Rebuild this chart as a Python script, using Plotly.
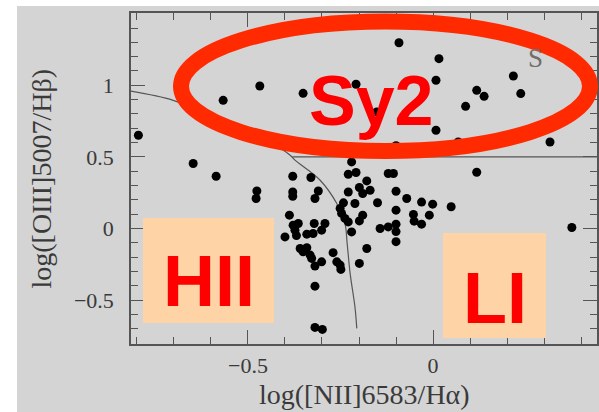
import plotly.graph_objects as go

# ---- data ----
nii = [-0.796, -0.648, -0.567, -0.468, -0.351, -0.208, -0.092, 0.016, 0.008, -0.152, 0.008, -0.100, -0.220, 0.068,
       0.118, 0.138, 0.088, 0.217, 0.237, 0.316, 0.118, -0.586,
       -0.379, -0.330, -0.379, -0.379, -0.310, -0.319, -0.476, -0.478, -0.229, -0.208, -0.179, -0.199, -0.170, -0.190,
       -0.229, -0.121, -0.107, -0.100, -0.071, -0.150, -0.031, -0.001, 0.049, -0.242, -0.251, -0.247, -0.238, -0.229,
       -0.211, -0.190, -0.199, -0.100, -0.053, -0.051, -0.031, -0.010, -0.143, -0.121, -0.100, -0.100, -0.100, 0.375,
       -0.388, -0.378, -0.364, -0.373, -0.400, -0.369, -0.341, -0.324, -0.321, -0.292, -0.301, -0.220, -0.359, -0.341,
       -0.351, -0.332, -0.328, -0.319, -0.301, -0.270, -0.260, -0.251, -0.249, -0.199, -0.179, -0.319, -0.319, -0.299]
oiii = [0.651, 0.454, 0.895, 0.995, 0.944, 1.007, 1.297, 1.186, 1.035, 0.814, 0.686, 0.578, 0.465, 0.604,
        0.965, 0.923, 0.853, 1.065, 0.942, 0.604, 0.393, 0.365,
        0.365, 0.356, 0.255, 0.225, 0.262, 0.209, 0.262, 0.209, 0.379, 0.391, 0.332, 0.286, 0.267, 0.244,
        0.255, 0.384, 0.384, 0.260, 0.209, 0.180, 0.184, 0.170, 0.152, 0.179, 0.140, 0.105, 0.070, 0.046,
        0.174, 0.093, 0.053, 0.128, 0.098, 0.051, 0.030, 0.093, 0.000, 0.011, 0.030, -0.022, -0.092, 0.007,
        0.093, 0.023, 0.035, -0.012, -0.059, -0.050, -0.040, -0.035, 0.035, 0.035, -0.012, -0.024, -0.140, -0.134,
        -0.163, -0.186, -0.209, -0.263, -0.233, -0.169, -0.233, -0.256, -0.286, -0.244, -0.140, -0.403, -0.691, -0.705]

# demarcation curve (HII / AGN) and Sy2 / LINER boundary
curve_x = [-0.819, -0.702, -0.603, -0.504, -0.386, -0.373, -0.305, -0.260, -0.238, -0.232, -0.224, -0.211, -0.206]
curve_y = [0.960, 0.895, 0.791, 0.698, 0.512, 0.477, 0.337, 0.174, 0.035, -0.105, -0.314, -0.547, -0.698]
hline_x = [-0.380, 0.443]
hline_y = [0.5, 0.5]

x_range = [-0.816, 0.443]
y_range = [-0.807, 1.505]
x_ticks = [-0.5, 0]
y_ticks = [-0.5, 0, 0.5, 1]
x_ticktext = ["−0.5", "0"]
y_ticktext = ["−0.5", "0", "0.5", "1"]

W, H = 599, 412
ML, MR, MT, MB = 131, 2, 13, 68
PW, PH = W - ML - MR, H - MT - MB


def px(xp):
    return (xp - ML) / PW


def py(yp):
    return (H - MB - yp) / PH


GRAY = "#d4d4d4"
AX = "#555555"
TXT = "#3a3a3a"
SERIF = "Liberation Serif, Times New Roman, serif"
SANS = "Liberation Sans, Arial, sans-serif"

fig = go.Figure()
fig.add_trace(go.Scatter(x=curve_x, y=curve_y, mode="lines", line=dict(color=AX, width=1.2, shape="spline"),
                         hoverinfo="skip", showlegend=False))
fig.add_trace(go.Scatter(x=hline_x, y=hline_y, mode="lines", line=dict(color=AX, width=1.2),
                         hoverinfo="skip", showlegend=False))
fig.add_trace(go.Scatter(x=nii, y=oiii, mode="markers", marker=dict(color="black", size=9),
                         showlegend=False))

axis_common = dict(showline=True, linecolor=AX, linewidth=1.5, mirror="ticks", ticks="inside",
                   ticklen=14, tickwidth=1.3, tickcolor=AX, showgrid=False, zeroline=False,
                   tickfont=dict(family=SERIF, size=22, color=TXT),
                   minor=dict(ticks="inside", ticklen=7, tickwidth=1.3, tickcolor=AX, dtick=0.1, tick0=0,
                              showgrid=False))
fig.update_xaxes(range=x_range, tickmode="array", tickvals=x_ticks, ticktext=x_ticktext,
                 ticklabelstandoff=1, **axis_common)
fig.update_yaxes(range=y_range, tickmode="array", tickvals=y_ticks, ticktext=y_ticktext,
                 ticklabelstandoff=11, **axis_common)

shapes = [
    # white page strips around the grey panel
    dict(type="rect", xref="paper", yref="paper", x0=px(0), x1=px(17), y0=py(H), y1=py(0),
         fillcolor="white", line=dict(width=0), layer="above"),
    dict(type="rect", xref="paper", yref="paper", x0=px(0), x1=px(W), y0=py(6), y1=py(0),
         fillcolor="white", line=dict(width=0), layer="above"),
    # peach boxes
    dict(type="rect", xref="paper", yref="paper", x0=px(143), x1=px(274), y0=py(323), y1=py(218),
         fillcolor="#fed4a6", line=dict(width=0), layer="above"),
    dict(type="rect", xref="paper", yref="paper", x0=px(443), x1=px(546), y0=py(338), y1=py(233),
         fillcolor="#fed4a6", line=dict(width=0), layer="above"),
    # red ellipse
    dict(type="circle", xref="paper", yref="paper", x0=px(181), x1=px(590), y0=py(151), y1=py(21.5),
         line=dict(color="#ff2a00", width=16), fillcolor="rgba(0,0,0,0)", layer="above"),
]

annotations = [
    dict(text="log([OIII]5007/Hβ)", xref="paper", yref="paper", x=px(41), y=0.5, textangle=-90,
         showarrow=False, xanchor="center", yanchor="middle", font=dict(family=SERIF, size=28, color=TXT)),
    dict(text="log([NII]6583/Hα)", xref="paper", yref="paper", x=0.5, y=py(394),
         showarrow=False, xanchor="center", yanchor="middle", font=dict(family=SERIF, size=28, color=TXT)),
    dict(text="S", xref="paper", yref="paper", x=px(535), y=py(57.5), showarrow=False,
         xanchor="center", yanchor="middle", font=dict(family=SERIF, size=27, color="#6e6e6e")),
    dict(text="<b>Sy2</b>", xref="paper", yref="paper", x=px(371), y=py(101), showarrow=False,
         xanchor="center", yanchor="middle", font=dict(family=SANS, size=70, color="#ff0000")),
    dict(text="<b>HII</b>", xref="paper", yref="paper", x=px(208.5), y=py(281), showarrow=False,
         xanchor="center", yanchor="middle", font=dict(family=SANS, size=72, color="#ff0000")),
    dict(text="<b>LI</b>", xref="paper", yref="paper", x=px(494.7), y=py(297.5), showarrow=False,
         xanchor="center", yanchor="middle", font=dict(family=SANS, size=72, color="#ff0000")),
]

fig.update_layout(width=W, height=H, margin=dict(l=ML, r=MR, t=MT, b=MB, autoexpand=False),
                  paper_bgcolor=GRAY, plot_bgcolor=GRAY, shapes=shapes, annotations=annotations,
                  showlegend=False)

fig.write_html("out.html", config={"displayModeBar": False},
               post_script="document.body.style.margin='0';document.body.style.overflow='hidden';")
